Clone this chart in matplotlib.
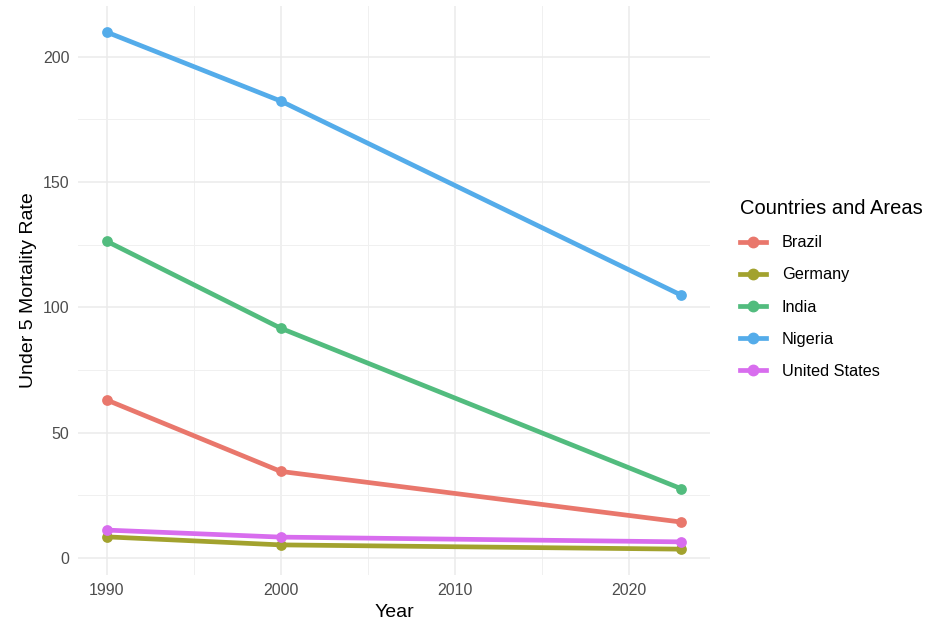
import matplotlib
matplotlib.use("Agg")
import matplotlib.pyplot as plt
from matplotlib.lines import Line2D
from matplotlib.ticker import MultipleLocator

plt.rcParams['font.family'] = ['Liberation Sans', 'DejaVu Sans']

years = [1990, 2000, 2023]
countries = ["Brazil", "Germany", "India", "Nigeria", "United States"]
brazil = [63.1, 34.6, 14.4]
germany = [8.5, 5.3, 3.6]
india = [126.4, 91.7, 27.7]
nigeria = [209.8, 182.3, 104.9]
united_states = [11.2, 8.4, 6.5]
colors = ["#E9776C", "#A2A22E", "#52BC7E", "#54ACEA", "#D86DEE"]
series = [brazil, germany, india, nigeria, united_states]

fig = plt.figure(figsize=(9.28, 6.25), dpi=100)
ax = fig.add_axes([0.084, 0.08, 0.681, 0.91])

for name, vals, c in zip(countries, series, colors):
    ax.plot(years, vals, color=c, lw=3.4, solid_capstyle='butt', zorder=3)
    ax.scatter(years, vals, color=c, s=60, zorder=4, linewidths=0)

ymin = min(min(s) for s in series); ymax = max(max(s) for s in series)
yr = ymax - ymin
ax.set_ylim(ymin - 0.05 * yr, ymax + 0.05 * yr)
xr = years[-1] - years[0]
ax.set_xlim(years[0] - 0.05 * xr, years[-1] + 0.05 * xr)

ax.yaxis.set_major_locator(MultipleLocator(50))
ax.yaxis.set_minor_locator(MultipleLocator(25))
ax.xaxis.set_major_locator(MultipleLocator(10))
ax.xaxis.set_minor_locator(MultipleLocator(5))
ax.grid(which='major', color='#EBEBEB', lw=1.1, zorder=0)
ax.grid(which='minor', color='#F0F0F0', lw=0.7, zorder=0)
ax.set_axisbelow(True)
for s in ax.spines.values():
    s.set_visible(False)
ax.tick_params(which='both', length=0, labelsize=11.5, labelcolor='#4D4D4D', pad=6)

ax.set_xlabel("Year", fontsize=14, color='black', labelpad=4)
ax.set_ylabel("Under 5 Mortality Rate", fontsize=14, color='black', labelpad=4)

handles = [Line2D([0], [0], color=c, lw=3.4, marker='o', markersize=7.5) for c in colors]
leg = fig.legend(handles, countries, loc='upper left', bbox_to_anchor=(0.782, 0.705),
                 frameon=False, title="Countries and Areas", title_fontsize=14.5,
                 fontsize=11.7, handlelength=1.55, labelspacing=1.06, alignment='left',
                 handletextpad=1.0)

fig.savefig("out.png", dpi=100, facecolor='white')
